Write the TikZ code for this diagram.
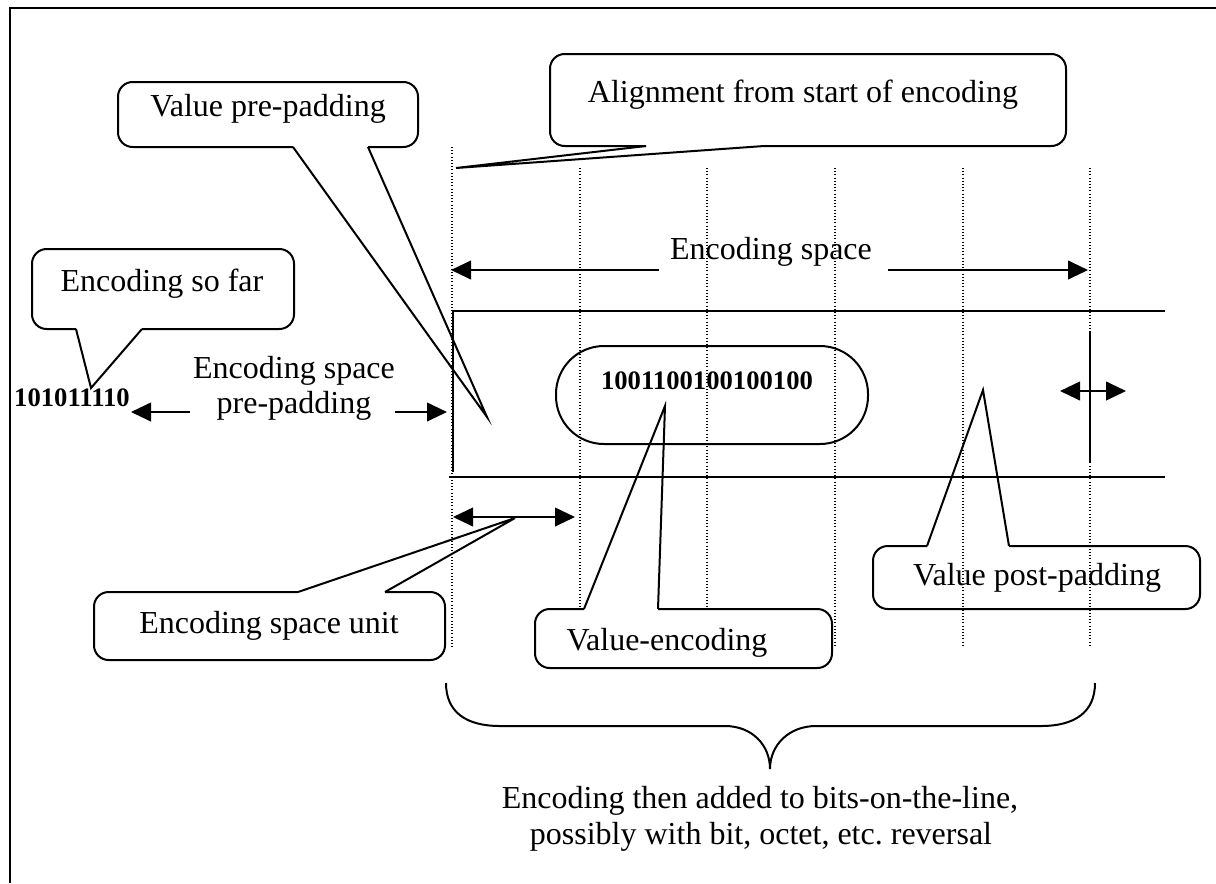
\documentclass[tikz,border=0pt]{standalone}
\usepackage{fontspec}
\setmainfont{Liberation Serif}
\usetikzlibrary{arrows.meta}
\frenchspacing

% Rounded callout whose pointer leaves the bottom edge.
% #1 extra style, #2 left, #3 top, #4 right, #5 bottom, #6/#7 pointer base x, #8 tip
\newcommand\CallDown[8][]{%
  \draw[callout line,#1] (#7,#5) -- (#4,#5) -- (#4,#3) -- (#2,#3) -- (#2,#5) -- (#6,#5);
  \draw[wedge line] (#6,#5) -- (#8) -- (#7,#5);}
% Rounded callout whose pointer leaves the top edge.
\newcommand\CallUp[8][]{%
  \draw[callout line,#1] (#7,#3) -- (#4,#3) -- (#4,#5) -- (#2,#5) -- (#2,#3) -- (#6,#3);
  \draw[wedge line] (#6,#3) -- (#8) -- (#7,#3);}

\begin{document}
\begin{tikzpicture}[x=0.75pt,y=-0.75pt,
  frame/.style={line width=1.9pt},
  solid line/.style={line width=1.6pt},
  guide/.style={line width=0.8pt, dash pattern=on 0.8pt off 1.6pt},
  callout line/.style={line width=1.5pt, rounded corners=11pt},
  wedge line/.style={line width=1.5pt, line join=miter},
  tip/.tip={Triangle[length=15pt,width=14pt]},
  arr/.style={line width=1.5pt, -tip},
  darr/.style={line width=1.5pt, tip-tip},
  lbl/.style={inner sep=0pt, anchor=base, font=\fontsize{24}{28}\selectfont},
  bits/.style={inner sep=0pt, anchor=base, font=\fontsize{20}{24}\selectfont\bfseries}]
\useasboundingbox (0,0) rectangle (1216,883);

% outer frame
\draw[frame] (10,883) -- (10,8) -- (1216,8);

% alignment guides, one per encoding space unit
\draw[guide] (452,147) -- (452,647);
\foreach \x in {580,707,835,963,1090}
  \draw[guide] (\x,168) -- (\x,647);

% the encoding space
\draw[solid line] (453,472) -- (453,311) -- (1165,311);
\draw[solid line] (449,477) -- (1165,477);
\draw[solid line] (1090,332) -- (1090,463);

% value encoding pill
\node[draw, line width=1.5pt, rounded corners=36pt, minimum width=234pt,
      minimum height=73.5pt] (pill) at (712,395) {};
\node[bits] (valbits) at (707,389) {1001100100100100};

% callouts
\coordinate (align-tip) at (456,168);
\coordinate (vpre-tip)  at (487,417);
\coordinate (sofar-tip) at (91,388);
\coordinate (unit-tip)  at (515,518);
\coordinate (venc-tip)  at (665,406);
\coordinate (vpost-tip) at (983,390);

\CallDown{550}{54}{1066}{146}{646}{764}{align-tip}
\CallDown{118}{82}{418}{147}{293}{368}{vpre-tip}
\CallDown{32}{249}{294}{329}{76}{142}{sofar-tip}
\CallUp{94}{592}{445}{660}{298}{385}{unit-tip}
\CallUp[fill=white]{535}{609}{832}{668}{584}{658}{venc-tip}
\CallUp{873}{546}{1200}{609}{927}{1009}{vpost-tip}

\node[lbl] (align) at (803,102) {Alignment from start of encoding};
\node[lbl] (vpre)  at (268,116) {Value pre-padding};
\node[lbl] (sofar) at (162,291) {Encoding so far};
\node[lbl] (unit)  at (269,633) {Encoding space unit};
\node[lbl] (venc)  at (667,650) {Value-encoding};
\node[lbl] (vpost) at (1037,585) {Value post-padding};

% encoding so far
\node[bits] (sofarbits) at (72,406) {101011110};

% encoding space span
\node[lbl] (espace) at (771,259) {Encoding space};
\coordinate (es-l0) at (659,270); \coordinate (es-l1) at (451,270);
\coordinate (es-r0) at (888,270); \coordinate (es-r1) at (1088,270);
\draw[arr] (es-l0) -- (es-l1);
\draw[arr] (es-r0) -- (es-r1);

% encoding space pre-padding span
\node[lbl] (pre1) at (294,378) {Encoding space};
\node[lbl] (pre2) at (294,413) {pre-padding};
\coordinate (pp-l0) at (190,412); \coordinate (pp-l1) at (131,412);
\coordinate (pp-r0) at (395,412); \coordinate (pp-r1) at (447,412);
\draw[arr] (pp-l0) -- (pp-l1);
\draw[arr] (pp-r0) -- (pp-r1);

% encoding space unit
\coordinate (u-l) at (453,517); \coordinate (u-r) at (575,517);
\draw[darr] (u-l) -- (u-r);

% end of value post-padding
\coordinate (p-l) at (1060,391); \coordinate (p-r) at (1126,391);
\draw[darr] (p-l) -- (p-r);

% brace collecting the whole encoding
\draw[line width=1.5pt] (446,683) .. controls (446,712) and (466,726) .. (500,726)
  -- (725,726) .. controls (752,726) and (770,745) .. (770,769)
  .. controls (770,745) and (789,726) .. (816,726)
  -- (1041,726) .. controls (1075,726) and (1095,712) .. (1095,683);

\node[lbl] (bot1) at (760,808) {Encoding then added to bits-on-the-line,};
\node[lbl] (bot2) at (761,844) {possibly with bit, octet, etc. reversal};
\end{tikzpicture}
\end{document}
